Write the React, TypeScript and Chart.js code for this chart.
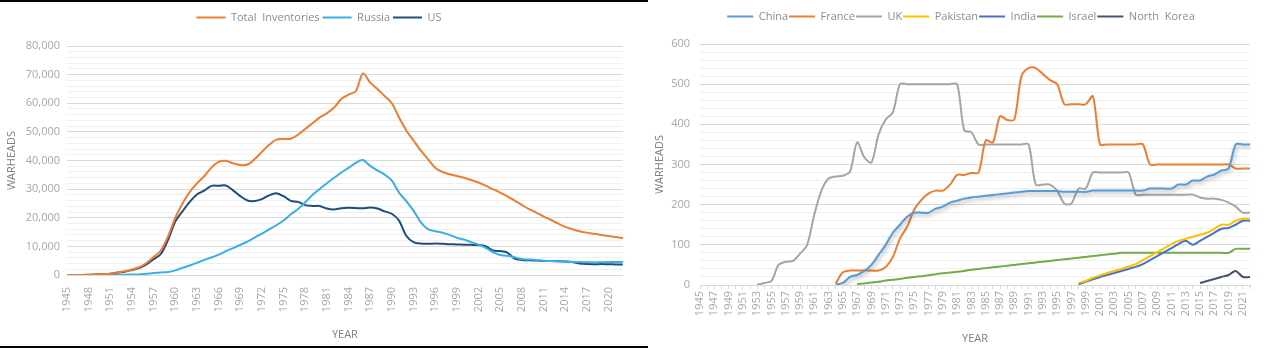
import React, { useEffect, useRef } from "react";
import { Chart, registerables } from "chart.js";
Chart.register(...registerables);

// ---------- categories ----------
const YEARS = [
  "1945","1946","1947","1948","1949","1950","1951","1952","1953","1954",
  "1955","1956","1957","1958","1959","1960","1961","1962","1963","1964",
  "1965","1966","1967","1968","1969","1970","1971","1972","1973","1974",
  "1975","1976","1977","1978","1979","1980","1981","1982","1983","1984",
  "1985","1986","1987","1988","1989","1990","1991","1992","1993","1994",
  "1995","1996","1997","1998","1999","2000","2001","2002","2003","2004",
  "2005","2006","2007","2008","2009","2010","2011","2012","2013","2014",
  "2015","2016","2017","2018","2019","2020","2021","2022",
];

// ---------- left chart series (1945-2022) ----------
const TOTAL = [
  2, 9, 13, 50, 171, 304, 463, 893, 1300, 1900,
  2700, 4200, 6300, 8500, 13500, 20000, 25000, 29000, 32000, 34500,
  37500, 39500, 39900, 39000, 38400, 38600, 40500, 43000, 45500, 47300,
  47500, 47600, 49000, 51000, 53000, 55000, 56500, 58500, 61500, 63000,
  64200, 70400, 67200, 65000, 62500, 60000, 55000, 50500, 47000, 43500,
  40500, 37500, 36000, 35200, 34600, 34000, 33200, 32300, 31200, 30000,
  28800, 27500, 26000, 24500, 23000, 21800, 20500, 19300, 18000, 16800,
  16000, 15300, 14800, 14400, 14000, 13600, 13300, 12900,
];
const RUSSIA = [
  0, 0, 0, 0, 1, 5, 25, 50, 120, 150,
  200, 426, 660, 869, 1060, 1605, 2471, 3322, 4238, 5221,
  6129, 7089, 8339, 9399, 10538, 11643, 13092, 14478, 15915, 17385,
  19055, 21205, 23044, 25393, 27935, 30062, 32049, 33952, 35804, 37431,
  39197, 40159, 38107, 36538, 35078, 32980, 28800, 25800, 22500, 18500,
  16000, 15300, 14800, 14000, 13000, 12400, 11500, 10600, 9500, 8000,
  7000, 6700, 6200, 5600, 5400, 5200, 5000, 4900, 4800, 4600,
  4500, 4500, 4450, 4400, 4450, 4500, 4500, 4500,
];
const US = [
  2, 9, 13, 50, 170, 299, 438, 841, 1169, 1703,
  2422, 3692, 5543, 7345, 12298, 18638, 22229, 25540, 28133, 29463,
  31139, 31175, 31255, 29561, 27552, 26008, 25830, 26516, 27835, 28537,
  27519, 25914, 25542, 24418, 24138, 24104, 23208, 22886, 23305, 23459,
  23368, 23317, 23575, 23205, 22217, 21392, 19008, 13708, 11511, 10979,
  10904, 11011, 10903, 10732, 10685, 10577, 10526, 10457, 10027, 8570,
  8360, 7853, 5709, 5273, 5113, 5066, 4897, 4881, 4804, 4717,
  4571, 4018, 3822, 3785, 3805, 3750, 3708, 3708,
];

// ---------- right chart series (values from start year to 2022) ----------
const CHINA_START = 1964;
const CHINA = [
  1, 5, 20, 25, 35, 50, 75, 100, 130, 150,
  170, 180, 180, 180, 190, 195, 205, 210, 215, 218,
  220, 222, 224, 226, 228, 230, 232, 234, 234, 234,
  234, 234, 232, 232, 232, 232, 235, 235, 235, 235,
  235, 235, 235, 235, 240, 240, 240, 240, 250, 250,
  260, 260, 270, 275, 285, 290, 350, 350, 350,
];
const FRANCE_START = 1964;
const FRANCE = [
  4, 32, 36, 36, 36, 36, 36, 45, 70, 116,
  145, 188, 212, 228, 235, 235, 250, 274, 274, 279,
  280, 360, 355, 420, 411, 412, 520, 540, 540, 525,
  510, 500, 450, 450, 450, 450, 470, 350, 350, 350,
  350, 350, 350, 350, 300, 300, 300, 300, 300, 300,
  300, 300, 300, 300, 300, 300, 290, 290, 290,
];
const UK_START = 1953;
const UK = [
  1, 5, 10, 50, 58, 60, 78, 100, 175, 235,
  265, 270, 272, 282, 355, 318, 305, 375, 412, 430,
  500, 500, 500, 500, 500, 500, 500, 500, 500, 385,
  380, 350, 350, 350, 350, 350, 350, 350, 350, 250,
  250, 250, 235, 203, 203, 240, 240, 280, 280, 280,
  280, 280, 280, 225, 225, 225, 225, 225, 225, 225,
  225, 225, 218, 215, 215, 212, 205, 195, 180, 180,
];
const PAKISTAN_START = 1998;
const PAKISTAN = [
  5, 10, 18, 24, 30, 35, 40, 46, 52, 62,
  72, 82, 92, 102, 110, 115, 120, 125, 130, 140,
  150, 150, 160, 165, 165,
];
const INDIA_START = 1998;
const INDIA = [
  2, 8, 14, 20, 25, 30, 35, 40, 45, 52,
  62, 72, 82, 92, 102, 110, 100, 110, 120, 130,
  140, 142, 150, 160, 160,
];
const ISRAEL_START = 1967;
const ISRAEL = [
  2, 4, 6, 8, 11, 13, 15, 18, 20, 22,
  24, 27, 29, 31, 33, 35, 38, 40, 42, 44,
  46, 48, 50, 52, 54, 56, 58, 60, 62, 64,
  66, 68, 70, 72, 74, 76, 78, 80, 80, 80,
  80, 80, 80, 80, 80, 80, 80, 80, 80, 80,
  80, 80, 80, 90, 90, 90,
];
const NKOREA_START = 2015;
const NKOREA = [5, 10, 15, 20, 25, 35, 20, 20];

const LEFT_Y_MAX = 80000;
const LEFT_Y_STEP = 2000;
const LEFT_Y_LABEL_STEP = 10000;
const RIGHT_Y_MAX = 600;
const RIGHT_Y_STEP = 20;
const RIGHT_Y_LABEL_STEP = 100;

// ---------- styles ----------
const FONT = "'Open Sans', 'Noto Sans', sans-serif";
const TICK_COLOR = "#a6a6a6";
const TITLE_COLOR = "#7f7f7f";
const LEGEND_COLOR = "#8c8c8c";
const MAJOR = "#d9d9d9";
const MINOR = "#f0f0f0";

function spread(start: number, values: number[]) {
  return YEARS.map((y) => {
    const i = Number(y) - start;
    return i >= 0 && i < values.length ? values[i] : null;
  });
}

function line(label: string, data: (number | null)[], color: string) {
  return {
    label,
    data,
    borderColor: color,
    backgroundColor: color,
    borderWidth: 2,
    pointRadius: 0,
    pointHoverRadius: 0,
    tension: 0.3,
    fill: false,
    spanGaps: false,
  };
}

const shadowPlugin = {
  id: "chinaShadow",
  beforeDatasetDraw(chart: any, args: any) {
    if (args.index === 0) {
      const ctx = chart.ctx;
      ctx.save();
      ctx.shadowColor = "rgba(0,0,0,0.35)";
      ctx.shadowBlur = 4;
      ctx.shadowOffsetX = 1;
      ctx.shadowOffsetY = 2;
    }
  },
  afterDatasetDraw(chart: any, args: any) {
    if (args.index === 0) chart.ctx.restore();
  },
};

// adds blank space below the legend and nudges it horizontally
function legendGap(extra: number, dx: number) {
  return {
    id: "legendGap",
    beforeLayout(chart: any) {
      const lg = chart.legend;
      if (lg && !lg._gapPatched) {
        const origFit = lg.fit;
        lg.fit = function () {
          origFit.call(this);
          this.height += extra;
        };
        const origDraw = lg.draw;
        lg.draw = function () {
          const ctx = this.ctx;
          ctx.save();
          ctx.translate(dx, 0);
          origDraw.call(this);
          ctx.restore();
        };
        lg._gapPatched = true;
      }
    },
  };
}

function legendOpts(boxW: number, pad: number) {
  return {
    position: "top" as const,
    labels: {
      usePointStyle: true,
      pointStyle: "line",
      pointStyleWidth: boxW,
      boxHeight: 2,
      color: LEGEND_COLOR,
      font: { family: FONT, size: 11 },
      padding: pad,
    },
  };
}

function LeftChart() {
  const ref = useRef<HTMLCanvasElement>(null);
  useEffect(() => {
    const chart = new Chart(ref.current!, {
      type: "line",
      data: {
        labels: YEARS,
        datasets: [
          line("Total  Inventories", TOTAL, "#ED7D31"),
          line("Russia", RUSSIA, "#3AAFE4"),
          line("US", US, "#1F4E79"),
        ] as any,
      },
      plugins: [legendGap(13, 5)],
      options: {
        animation: false,
        responsive: false,
        events: [],
        layout: { padding: { left: 0, right: 12, top: 9, bottom: 0 } },
        plugins: {
          legend: legendOpts(29, 3) as any,
          tooltip: { enabled: false },
        },
        scales: {
          x: {
            offset: false,
            grid: { display: false },
            border: { display: true, color: MAJOR },
            ticks: {
              autoSkip: false,
              minRotation: 90,
              maxRotation: 90,
              color: TICK_COLOR,
              font: { family: FONT, size: 11 },
              padding: 4,
              callback: (_v: any, i: number) => (i % 3 === 0 ? YEARS[i] : ""),
            },
            title: {
              display: true,
              text: "YEAR",
              color: TITLE_COLOR,
              font: { family: FONT, size: 11 },
              padding: { top: 0, bottom: 7 },
            },
            afterFit: (s: any) => {
              s.height = 73;
            },
          } as any,
          y: {
            min: 0,
            max: LEFT_Y_MAX,
            border: { display: false },
            grid: {
              drawTicks: false,
              color: (c: any) =>
                c.tick && c.tick.value % LEFT_Y_LABEL_STEP === 0 ? MAJOR : MINOR,
            },
            ticks: {
              stepSize: LEFT_Y_STEP,
              autoSkip: false,
              padding: 7,
              color: TICK_COLOR,
              font: { family: FONT, size: 11 },
              callback: (v: any) =>
                v % LEFT_Y_LABEL_STEP === 0 ? Number(v).toLocaleString("en-US") : "",
            },
            title: {
              display: true,
              text: "WARHEADS",
              color: TITLE_COLOR,
              font: { family: FONT, size: 11 },
              padding: { top: 5, bottom: 0 },
            },
            afterFit: (s: any) => {
              s.width = 67;
            },
          } as any,
        },
      },
    });
    return () => chart.destroy();
  }, []);
  return <canvas ref={ref} width={640} height={348} style={{ display: "block" }} />;
}

function RightChart() {
  const ref = useRef<HTMLCanvasElement>(null);
  useEffect(() => {
    const chart = new Chart(ref.current!, {
      type: "line",
      data: {
        labels: YEARS,
        datasets: [
          line("China", spread(CHINA_START, CHINA), "#5B9BD5"),
          line("France", spread(FRANCE_START, FRANCE), "#ED7D31"),
          line("UK", spread(UK_START, UK), "#A5A5A5"),
          line("Pakistan", spread(PAKISTAN_START, PAKISTAN), "#FFC000"),
          line("India", spread(INDIA_START, INDIA), "#4472C4"),
          line("Israel", spread(ISRAEL_START, ISRAEL), "#70AD47"),
          line("North  Korea", spread(NKOREA_START, NKOREA), "#44546A"),
        ] as any,
      },
      plugins: [shadowPlugin, legendGap(12, 12)],
      options: {
        animation: false,
        responsive: false,
        events: [],
        layout: { padding: { left: 0, right: 16, top: 10, bottom: 0 } },
        plugins: {
          legend: legendOpts(26, 1) as any,
          tooltip: { enabled: false },
        },
        scales: {
          x: {
            offset: false,
            grid: {
              display: true,
              drawOnChartArea: false,
              drawTicks: true,
              tickLength: 4,
              color: MAJOR,
            },
            border: { display: true, color: MAJOR },
            ticks: {
              autoSkip: false,
              minRotation: 90,
              maxRotation: 90,
              color: TICK_COLOR,
              font: { family: FONT, size: 11 },
              padding: 2,
              callback: (_v: any, i: number) => (i % 2 === 0 ? YEARS[i] : ""),
            },
            title: {
              display: true,
              text: "YEAR",
              color: TITLE_COLOR,
              font: { family: FONT, size: 11 },
              padding: { top: 0, bottom: 3 },
            },
            afterFit: (s: any) => {
              s.height = 63;
            },
          } as any,
          y: {
            min: 0,
            max: RIGHT_Y_MAX,
            border: { display: false },
            grid: {
              drawTicks: false,
              color: (c: any) =>
                c.tick && c.tick.value % RIGHT_Y_LABEL_STEP === 0 ? MAJOR : MINOR,
            },
            ticks: {
              stepSize: RIGHT_Y_STEP,
              autoSkip: false,
              padding: 10,
              color: TICK_COLOR,
              font: { family: FONT, size: 11 },
              callback: (v: any) => (v % RIGHT_Y_LABEL_STEP === 0 ? String(v) : ""),
            },
            title: {
              display: true,
              text: "WARHEADS",
              color: TITLE_COLOR,
              font: { family: FONT, size: 11 },
              padding: { top: 5, bottom: 0 },
            },
            afterFit: (s: any) => {
              s.width = 52;
            },
          } as any,
        },
      },
    });
    return () => chart.destroy();
  }, []);
  return <canvas ref={ref} width={618} height={348} style={{ display: "block" }} />;
}

export default function App() {
  return (
    <div
      style={{
        position: "fixed",
        left: 0,
        top: 0,
        width: 1266,
        height: 348,
        background: "#ffffff",
        overflow: "hidden",
      }}
    >
      <div style={{ position: "absolute", left: 0, top: 0, width: 640, height: 348 }}>
        <LeftChart />
      </div>
      <div style={{ position: "absolute", left: 648, top: 0, width: 618, height: 348 }}>
        <RightChart />
      </div>
      <div style={{ position: "absolute", left: 0, top: 0, width: 648, height: 2, background: "#000" }} />
      <div style={{ position: "absolute", left: 0, top: 346, width: 648, height: 2, background: "#000" }} />
    </div>
  );
}
